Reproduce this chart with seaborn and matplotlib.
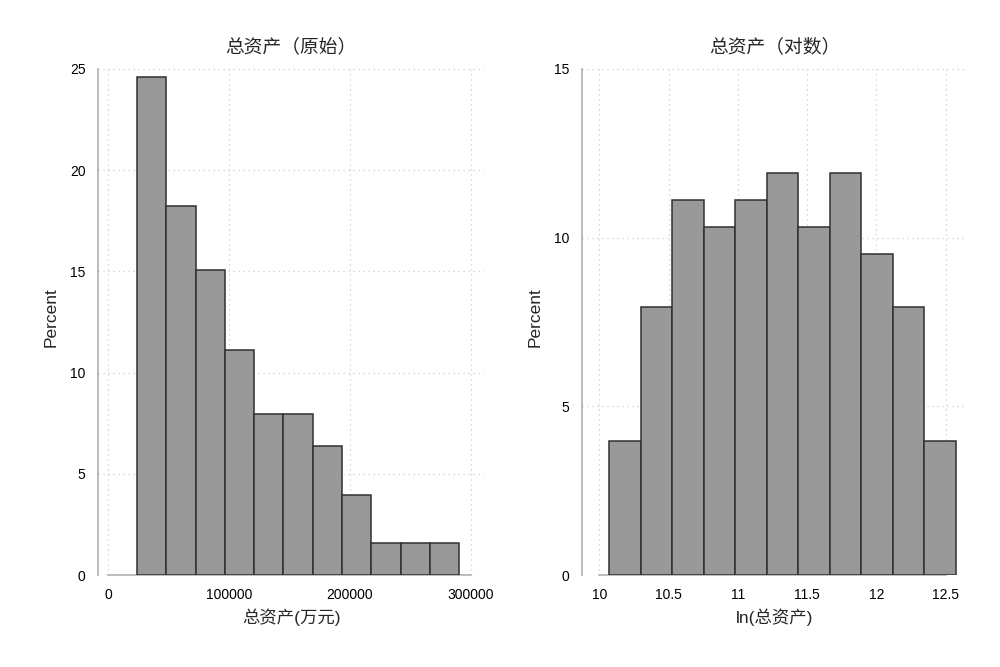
import numpy as np
import pandas as pd
import seaborn as sns
import matplotlib.pyplot as plt

# bin edges and firm counts (N = 126)
raw_edges = [24000, 48200, 72400, 96600, 120800, 145000, 169200,
             193400, 217600, 241800, 266000, 290200]
raw_counts = [31, 23, 19, 14, 10, 10, 8, 5, 2, 2, 2]
log_edges = [10.072, 10.299, 10.527, 10.754, 10.981, 11.209, 11.436,
             11.663, 11.891, 12.118, 12.345, 12.573]
log_counts = [5, 10, 14, 13, 14, 15, 13, 15, 12, 10, 5]

raw_xticks = [0, 100000, 200000, 300000]
log_xticks = [10, 10.5, 11, 11.5, 12, 12.5]

sns.set_style('white')
plt.rcParams['font.family'] = ['Liberation Sans', 'Noto Sans CJK SC']

fig = plt.figure(figsize=(10, 6.67), dpi=100)
ax1 = fig.add_axes([0.098, 0.1379, 0.386, 0.7587])
ax2 = fig.add_axes([0.582, 0.1379, 0.385, 0.7587])


def draw(ax, edges, counts, xticks, xlim, ymax, title, xlabel):
    mids = [(a + b) / 2 for a, b in zip(edges[:-1], edges[1:])]
    df = pd.DataFrame({'mid': mids, 'n': counts})
    sns.histplot(data=df, x='mid', weights='n', bins=edges, stat='percent',
                 color='#999999', edgecolor='#303030', linewidth=1.1,
                 alpha=1, ax=ax, zorder=3)
    ax.set_xlim(*xlim)
    ax.set_ylim(0, ymax)
    ax.set_xticks(xticks)
    ax.set_yticks(np.arange(0, ymax + 1, 5))
    ax.grid(True, linestyle=(0, (1, 3)), color='#cccccc', linewidth=0.9, zorder=0)
    for s in ['top', 'right']:
        ax.spines[s].set_visible(False)
    for s in ['left', 'bottom']:
        ax.spines[s].set_color('#b0b0b0')
        ax.spines[s].set_linewidth(1.2)
    ax.spines['left'].set_bounds(0, ymax)
    ax.spines['bottom'].set_bounds(xticks[0], xticks[-1])
    ax.tick_params(direction='out', length=6, width=1.1, color='#b0b0b0',
                   labelcolor='black', labelsize=10, pad=3)
    ax.set_title(title, fontsize=13.5, pad=12)
    ax.set_xlabel(xlabel, fontsize=12.5, labelpad=5)
    ax.set_ylabel('Percent', fontsize=12.5)
    ax.yaxis.set_label_coords(-0.101, 0.51)


draw(ax1, raw_edges, raw_counts, raw_xticks, (-8264, 310700), 25,
     '总资产（原始）', '总资产(万元)')
ax1.set_xticklabels(['0', '100000', '200000', '300000'])
draw(ax2, log_edges, log_counts, log_xticks, (9.875, 12.655), 15,
     '总资产（对数）', 'ln(总资产)')
ax2.set_xticklabels(['10', '10.5', '11', '11.5', '12', '12.5'])

fig.savefig('out.png', dpi=100)
